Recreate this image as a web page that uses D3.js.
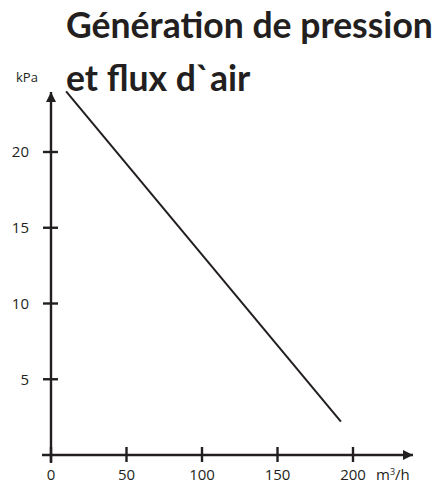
<!DOCTYPE html>
<html>
<head>
<meta charset="utf-8">
<title>Génération de pression et flux d'air</title>
<style>
  body { margin: 0; background: #fff; }
  svg text { font-family: "Open Sans", "DejaVu Sans", sans-serif; fill: #231f20; }
  .title { font-family: Lato, "Open Sans", sans-serif; font-weight: 700; }
  .axis text { font-size: 15px; }
  .axis path, .axis line { stroke: #231f20; stroke-width: 2.4; }
</style>
</head>
<body>
<svg width="443" height="485"></svg>
<script src="https://d3js.org/d3.v7.min.js"></script>
<script>
// data
var titleLines = ["Génération de pression", "et flux d`air"];
var xTicks = [0, 50, 100, 150, 200];
var yTicks = [5, 10, 15, 20];
var flow = [10, 192];       // m3/h
var pressure = [24, 2.2];   // kPa

var svg = d3.select("svg");
var ink = "#231f20";

// scales
var x = d3.scaleLinear().domain([0, 200]).range([51, 353]);
var y = d3.scaleLinear().domain([0, 20]).range([455, 152]);

// arrow heads
var defs = svg.append("defs");
defs.append("marker")
  .attr("id", "arrow")
  .attr("viewBox", "0 0 10 10")
  .attr("refX", 10).attr("refY", 5)
  .attr("markerWidth", 19).attr("markerHeight", 10)
  .attr("markerUnits", "userSpaceOnUse")
  .attr("orient", "auto")
  .append("path").attr("d", "M0,0L10,5L0,10Z").attr("fill", ink);

// x axis
var gx = svg.append("g").attr("class", "axis");
gx.append("line")
  .attr("x1", 42).attr("x2", 413)
  .attr("y1", y(0)).attr("y2", y(0))
  .attr("marker-end", "url(#arrow)");
gx.selectAll(".tick").data(xTicks).enter().append("line")
  .attr("x1", function(d) { return x(d); }).attr("x2", function(d) { return x(d); })
  .attr("y1", y(0) - 8).attr("y2", y(0) + 7);
gx.selectAll(".lbl").data(xTicks).enter().append("text")
  .attr("x", function(d) { return x(d); })
  .attr("y", 480)
  .attr("text-anchor", "middle")
  .text(function(d) { return d; });
gx.append("text")
  .attr("x", 376).attr("y", 480)
  .html("m<tspan dy='-5' font-size='9'>3</tspan><tspan dy='5'>/h</tspan>");

// y axis
var gy = svg.append("g").attr("class", "axis");
gy.append("line")
  .attr("x1", x(0)).attr("x2", x(0))
  .attr("y1", y(0) + 8).attr("y2", 92)
  .attr("marker-end", "url(#arrow)");
gy.selectAll(".tick").data(yTicks).enter().append("line")
  .attr("x1", x(0) - 8).attr("x2", x(0) + 7)
  .attr("y1", function(d) { return y(d); }).attr("y2", function(d) { return y(d); });
gy.selectAll(".lbl").data(yTicks).enter().append("text")
  .attr("x", 29)
  .attr("y", function(d) { return y(d); })
  .attr("dy", "0.35em")
  .attr("text-anchor", "end")
  .text(function(d) { return d; });
gy.append("text")
  .attr("x", 16).attr("y", 82)
  .style("font-size", "13px")
  .text("kPa");

// curve
svg.append("path")
  .datum(d3.zip(flow, pressure))
  .attr("fill", "none")
  .attr("stroke", ink)
  .attr("stroke-width", 2)
  .attr("d", d3.line()
    .x(function(d) { return x(d[0]); })
    .y(function(d) { return y(d[1]); }));

// title
var t = svg.append("text").attr("class", "title").style("font-size", "36px");
t.selectAll("tspan").data(titleLines).enter().append("tspan")
  .attr("x", 66)
  .attr("y", function(d, i) { return 38 + i * 53; })
  .text(function(d) { return d; });
// fit first line to ~367px
var w = t.select("tspan").node().getComputedTextLength();
t.style("font-size", (36 * 367 / w) + "px");
</script>
</body>
</html>
